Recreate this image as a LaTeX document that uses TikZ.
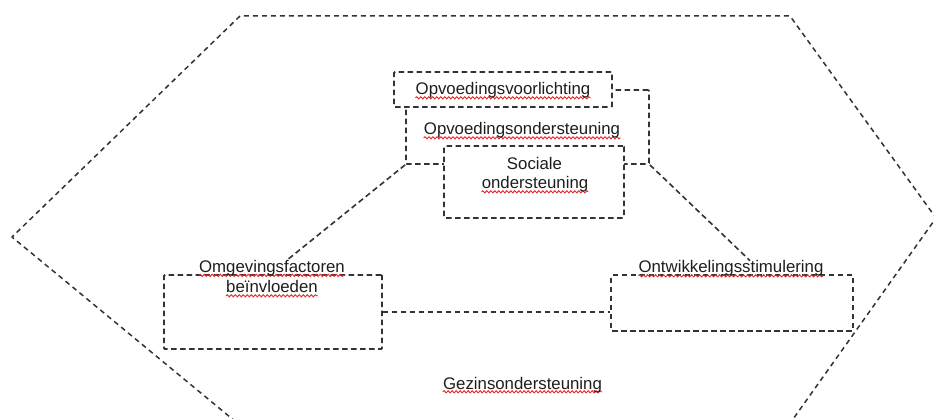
\documentclass[tikz,border=0pt]{standalone}
\usepackage{fontspec}
\setmainfont{Liberation Sans}
\usetikzlibrary{decorations.pathmorphing}
\definecolor{ln}{HTML}{333333}
\definecolor{txt}{HTML}{1E1E1E}
\definecolor{spellred}{HTML}{E02828}
\begin{document}
\begin{tikzpicture}[x=1pt,y=-1pt,
  boxline/.style={draw=ln, line width=1.9pt, dash pattern=on 5.5pt off 3.5pt},
  linkline/.style={draw=ln, line width=1.6pt, dash pattern=on 5.5pt off 3.5pt},
  hexline/.style={draw=ln, line width=1.5pt, dash pattern=on 5pt off 4pt, line join=round},
  box/.style={boxline, fill=white, rounded corners=1pt, inner sep=0pt},
  lbl/.style={inner sep=0pt, text=txt, font=\fontsize{16.8}{19}\selectfont, anchor=base},
  spell/.style={append after command={\pgfextra{\draw[spellred, line width=0.9pt, decorate, decoration={snake, amplitude=1.1pt, segment length=4pt}] ([yshift=-2.8pt]\tikzlastnode.base west) -- ([yshift=-2.8pt]\tikzlastnode.base east);}}},
]
\useasboundingbox (0,0) rectangle (934,419);
\fill[white] (0,0) rectangle (934,419);
\clip (0,0) rectangle (934,419);

% outer hexagon (Gezinsondersteuning)
\draw[hexline] (236,422) -- (12,237) -- (240,16) -- (790,16) -- (936,218) -- (791,422);

% Opvoedingsondersteuning frame
\node[boxline, rounded corners=1pt, inner sep=0pt, minimum width=243pt, minimum height=74pt] (opo) at (527.5,127) {};

% boxes
\node[box, minimum width=218pt, minimum height=35pt] (voor) at (503,89.5) {};
\node[box, minimum width=180pt, minimum height=72pt] (soc) at (534,182) {};
\node[box, minimum width=218pt, minimum height=74pt] (omg) at (273,312) {};
\node[box, minimum width=242pt, minimum height=56pt] (ont) at (732,303) {};

% texts
\node[lbl,spell] (tvoor) at (503,95) {Opvoedingsvoorlichting};
\node[lbl,spell] (topo) at (522,135) {Opvoedingsondersteuning};
\node[lbl] (tsoc1) at (534.5,170) {Sociale};
\node[lbl,spell] (tsoc2) at (535,189) {ondersteuning};
\node[lbl,spell] (tomg1) at (272,272.5) {Omgevingsfactoren};
\node[lbl,spell] (tomg2) at (272,293) {beïnvloeden};
\node[lbl,spell] (tont) at (731,273) {Ontwikkelingsstimulering};
\node[lbl,spell] (tgez) at (522.5,389) {Gezinsondersteuning};

% connectors
\draw[linkline] (opo.south west) -- ([xshift=15pt]tomg1.north);
\draw[linkline] (opo.south east) -- ([xshift=19pt]tont.north);
\draw[linkline] (omg.east) -- (omg.east -| ont.west);
\end{tikzpicture}
\end{document}
